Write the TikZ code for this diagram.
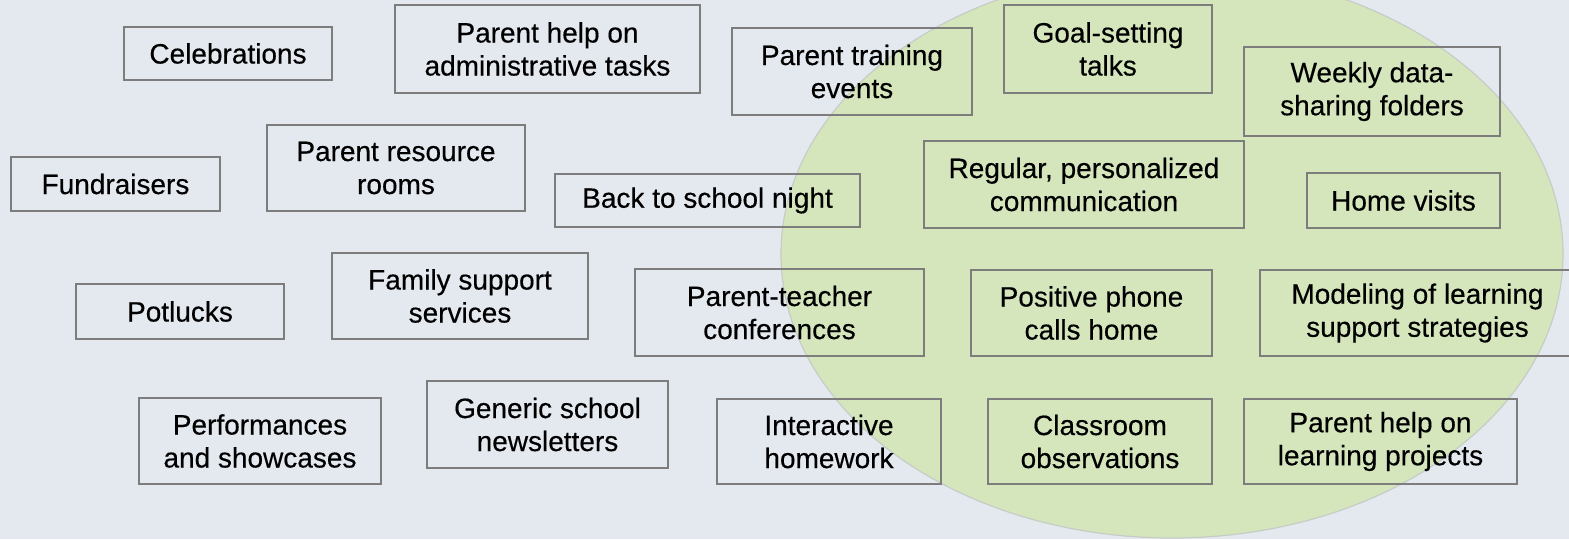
\documentclass[tikz,border=0pt]{standalone}
\usepackage{fontspec}
\setmainfont{Liberation Sans}[FakeBold=0.3]
\newfontfamily\itemfont{Liberation Sans}[FakeBold=0.35,AutoFakeBold=0.35]
\usetikzlibrary{shapes.geometric}
\definecolor{bgcol}{RGB}{228,232,239}
\definecolor{ellfill}{RGB}{214,230,188}
\definecolor{elledge}{RGB}{198,204,198}
\definecolor{boxline}{RGB}{125,125,125}
\tikzset{
  itembox/.style={draw=boxline, line width=2.6pt, fill=none, inner sep=0pt,
    align=center, font=\itemfont\fontsize{28}{33}\selectfont, text=black}
}
\begin{document}
\begin{tikzpicture}[x=1pt,y=-1pt]
\useasboundingbox (0,0) rectangle (1569,539);
\clip (0,0) rectangle (1569,539);
\fill[bgcol] (0,0) rectangle (1569,539);
\node[draw=elledge, line width=1.2pt, fill=ellfill, ellipse, minimum width=782pt, minimum height=568pt, inner sep=0pt] (zone) at (1172,254) {};
% row 1
\node[itembox, minimum width=208pt, minimum height=53pt] (cel) at (228,53.5) {Celebrations};
\node[itembox, minimum width=305pt, minimum height=88pt] (admin) at (547.5,49) {Parent help on\\administrative tasks};
\node[itembox, minimum width=240pt, minimum height=87pt] (train) at (852,71.5) {Parent training\\events};
\node[itembox, minimum width=208pt, minimum height=88pt] (goal) at (1108,49) {Goal-setting\\talks};
\node[itembox, minimum width=256pt, minimum height=89pt] (weekly) at (1372,91.5) {Weekly data-\\sharing folders};
% row 2
\node[itembox, minimum width=209pt, minimum height=54pt] (fund) at (115.5,184) {Fundraisers};
\node[itembox, minimum width=258pt, minimum height=86pt] (res) at (396,168) {Parent resource\\rooms};
\node[itembox, minimum width=305pt, minimum height=53pt] (back) at (707.5,200.5) {Back to school night};
\node[itembox, minimum width=320pt, minimum height=87pt] (reg) at (1084,184.5) {Regular, personalized\\communication};
\node[itembox, minimum width=193pt, minimum height=55pt] (home) at (1403.5,200.5) {Home visits};
% row 3
\node[itembox, minimum width=208pt, minimum height=55pt] (pot) at (180,311.5) {Potlucks};
\node[itembox, minimum width=256pt, minimum height=86pt] (fam) at (460,296) {Family support\\services};
\node[itembox, minimum width=289pt, minimum height=87pt] (ptc) at (779.5,312.5) {Parent-teacher\\conferences};
\node[itembox, minimum width=241pt, minimum height=86pt] (phone) at (1091.5,313) {Positive phone\\calls home};
\node[itembox, minimum width=315pt, minimum height=86pt] (model) at (1417.5,313) {Modeling of learning\\support strategies};
% row 4
\node[itembox, minimum width=242pt, minimum height=86pt] (perf) at (260,441) {Performances\\and showcases};
\node[itembox, minimum width=241pt, minimum height=87pt] (gen) at (547.5,424.5) {Generic school\\newsletters};
\node[itembox, minimum width=224pt, minimum height=85pt] (inter) at (829,441.5) {Interactive\\homework};
\node[itembox, minimum width=224pt, minimum height=85pt] (class) at (1100,441.5) {Classroom\\observations};
\node[itembox, minimum width=273pt, minimum height=85pt] (proj) at (1380.5,441.5) {Parent help on\\learning projects};
\end{tikzpicture}
\end{document}
